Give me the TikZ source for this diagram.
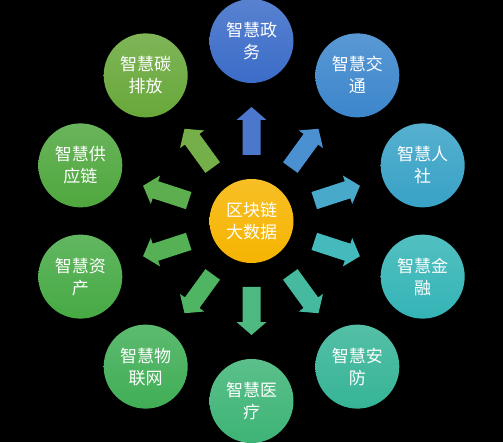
\documentclass[tikz,border=0pt]{standalone}
\usepackage{fontspec}
\setmainfont{Noto Sans CJK SC}
\usetikzlibrary{calc}
\begin{document}
\begin{tikzpicture}[x=1pt,y=1pt,
  ball/.style={circle, minimum size=84pt, inner sep=0pt, text=white,
    font=\fontsize{17}{22}\selectfont, align=center},
  hub/.style={ball, top color=#1!85!white, bottom color=#1}]
\fill[black] (0,0) rectangle (503,442);
\useasboundingbox (0,0) rectangle (503,442);
\definecolor{cA}{HTML}{3B6CC8}
\definecolor{cB}{HTML}{3C86CC}
\definecolor{cC}{HTML}{38A2C6}
\definecolor{cD}{HTML}{34B4B6}
\definecolor{cE}{HTML}{36B496}
\definecolor{cF}{HTML}{3EB476}
\definecolor{cG}{HTML}{40AE56}
\definecolor{cH}{HTML}{46AA44}
\definecolor{cI}{HTML}{4FA73E}
\definecolor{cJ}{HTML}{68A83A}
\definecolor{cK}{HTML}{F6B400}
\node[hub=cK] (c) at (251.5,221) {区块链\\大数据};
\foreach \n/\a/\col in {
  zw/90/cA, jt/54/cB, rs/18/cC, jr/-18/cD, af/-54/cE,
  yl/-90/cF, wl/-126/cG, zc/-162/cH, gy/162/cI, tp/126/cJ}{
  \node[hub=\col] (\n) at ($(c)+(\a:180)$) {};
  \begin{scope}[shift={(c)}, rotate=\a]
    \fill[\col!92!white] (66,-9) -- (101,-9) -- (101,-15) -- (114,0) -- (101,15) -- (101,9) -- (66,9) -- cycle;
  \end{scope}
}
\node[ball] at (zw) {智慧政\\务};
\node[ball] at (jt) {智慧交\\通};
\node[ball] at (rs) {智慧人\\社};
\node[ball] at (jr) {智慧金\\融};
\node[ball] at (af) {智慧安\\防};
\node[ball] at (yl) {智慧医\\疗};
\node[ball] at (wl) {智慧物\\联网};
\node[ball] at (zc) {智慧资\\产};
\node[ball] at (gy) {智慧供\\应链};
\node[ball] at (tp) {智慧碳\\排放};
\end{tikzpicture}
\end{document}
